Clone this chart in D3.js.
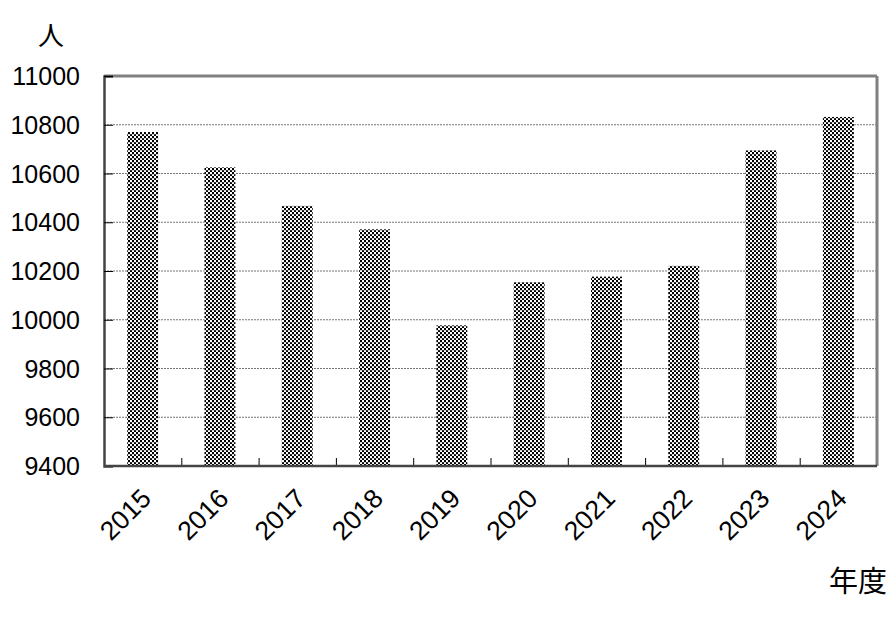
<!DOCTYPE html>
<html><head><meta charset="utf-8">
<script src="https://cdn.jsdelivr.net/npm/d3@7"></script>
<style>body{margin:0;background:#fff}svg{display:block}</style>
</head><body>
<script>
const years = ["2015","2016","2017","2018","2019","2020","2021","2022","2023","2024"];
const values = [10770,10625,10467,10371,9977,10154,10177,10221,10695,10832];
const yTicks = [9400,9600,9800,10000,10200,10400,10600,10800,11000];
const yUnit = "人";
const xUnit = "年度";

const W=896,H=617;
const m={l:104,r:19,t:76,b:151};
const svg=d3.select("body").append("svg").attr("width",W).attr("height",H);
const defs=svg.append("defs");
const pat=defs.append("pattern").attr("id","chk").attr("patternUnits","userSpaceOnUse").attr("width",4).attr("height",4);
pat.append("rect").attr("width",4).attr("height",4).attr("fill","#fff");
pat.append("rect").attr("x",0).attr("y",0).attr("width",2).attr("height",2).attr("fill","#000");
pat.append("rect").attr("x",2).attr("y",2).attr("width",2).attr("height",2).attr("fill","#000");
pat.append("rect").attr("x",0).attr("y",2).attr("width",4).attr("height",1).attr("fill","#888").attr("opacity",0.35);

const x=d3.scaleBand().domain(years).range([m.l,W-m.r]).paddingInner(0.6).paddingOuter(0.3);
const y=d3.scaleLinear().domain([9400,11000]).range([H-m.b,m.t]);
const x0=m.l,x1=W-m.r,y0=H-m.b,y1=m.t;

// gridlines
svg.append("g").selectAll("line").data(yTicks.filter(d=>d>9400&&d<11000)).join("line")
 .attr("x1",x0).attr("x2",x1).attr("y1",d=>y(d)).attr("y2",d=>y(d))
 .attr("stroke","#777").attr("stroke-width",1).attr("stroke-dasharray","2,1");

// bars
svg.append("g").selectAll("rect").data(values).join("rect")
 .attr("x",(d,i)=>x(years[i])).attr("width",x.bandwidth())
 .attr("y",d=>y(d)).attr("height",d=>y0-y(d))
 .attr("fill","url(#chk)");

// frame
svg.append("line").attr("x1",x0).attr("x2",x1).attr("y1",y1).attr("y2",y1).attr("stroke","#808080").attr("stroke-width",3);
svg.append("line").attr("x1",x1).attr("x2",x1).attr("y1",y1).attr("y2",y0).attr("stroke","#808080").attr("stroke-width",3);

// y axis
const ya=svg.append("g").attr("transform",`translate(${x0},0)`)
 .call(d3.axisRight(y).tickValues(yTicks).tickSize(9).tickFormat(""));
ya.select(".domain").attr("stroke","#444").attr("stroke-width",2.5);
ya.selectAll(".tick line").attr("stroke","#000");
svg.append("g").selectAll("text").data(yTicks).join("text")
 .attr("x",80).attr("y",d=>y(d)+9).attr("text-anchor","end")
 .attr("font-family","Liberation Sans, Arial, sans-serif").attr("font-size",25).attr("fill","#000")
 .text(d=>d);

// x axis
const xb=d3.scaleLinear().domain([0,years.length]).range([x0,x1]);
const xa=svg.append("g").attr("transform",`translate(0,${y0})`)
 .call(d3.axisTop(xb).tickValues(d3.range(1,years.length)).tickSize(8).tickFormat(""));
xa.select(".domain").remove();
xa.selectAll(".tick line").attr("stroke","#000");
svg.append("line").attr("x1",x0).attr("x2",x1).attr("y1",y0).attr("y2",y0).attr("stroke","#444").attr("stroke-width",2.5);

svg.append("g").selectAll("text").data(years).join("text")
 .attr("transform",d=>`translate(${x(d)+x.bandwidth()/2-3},${y0+21}) rotate(-45)`)
 .attr("text-anchor","end").attr("dy","0.7em")
 .attr("font-family","Liberation Sans, Arial, sans-serif").attr("font-size",26.5).attr("fill","#000")
 .text(d=>d);

svg.append("text").attr("x",51).attr("y",45).attr("text-anchor","middle")
 .attr("font-family","Noto Sans CJK JP, sans-serif").attr("font-size",26).attr("fill","#000").text(yUnit);
svg.append("text").attr("x",887).attr("y",592).attr("text-anchor","end")
 .attr("font-family","Noto Sans CJK JP, sans-serif").attr("font-size",29).attr("fill","#000").text(xUnit);
</script>
</body></html>
